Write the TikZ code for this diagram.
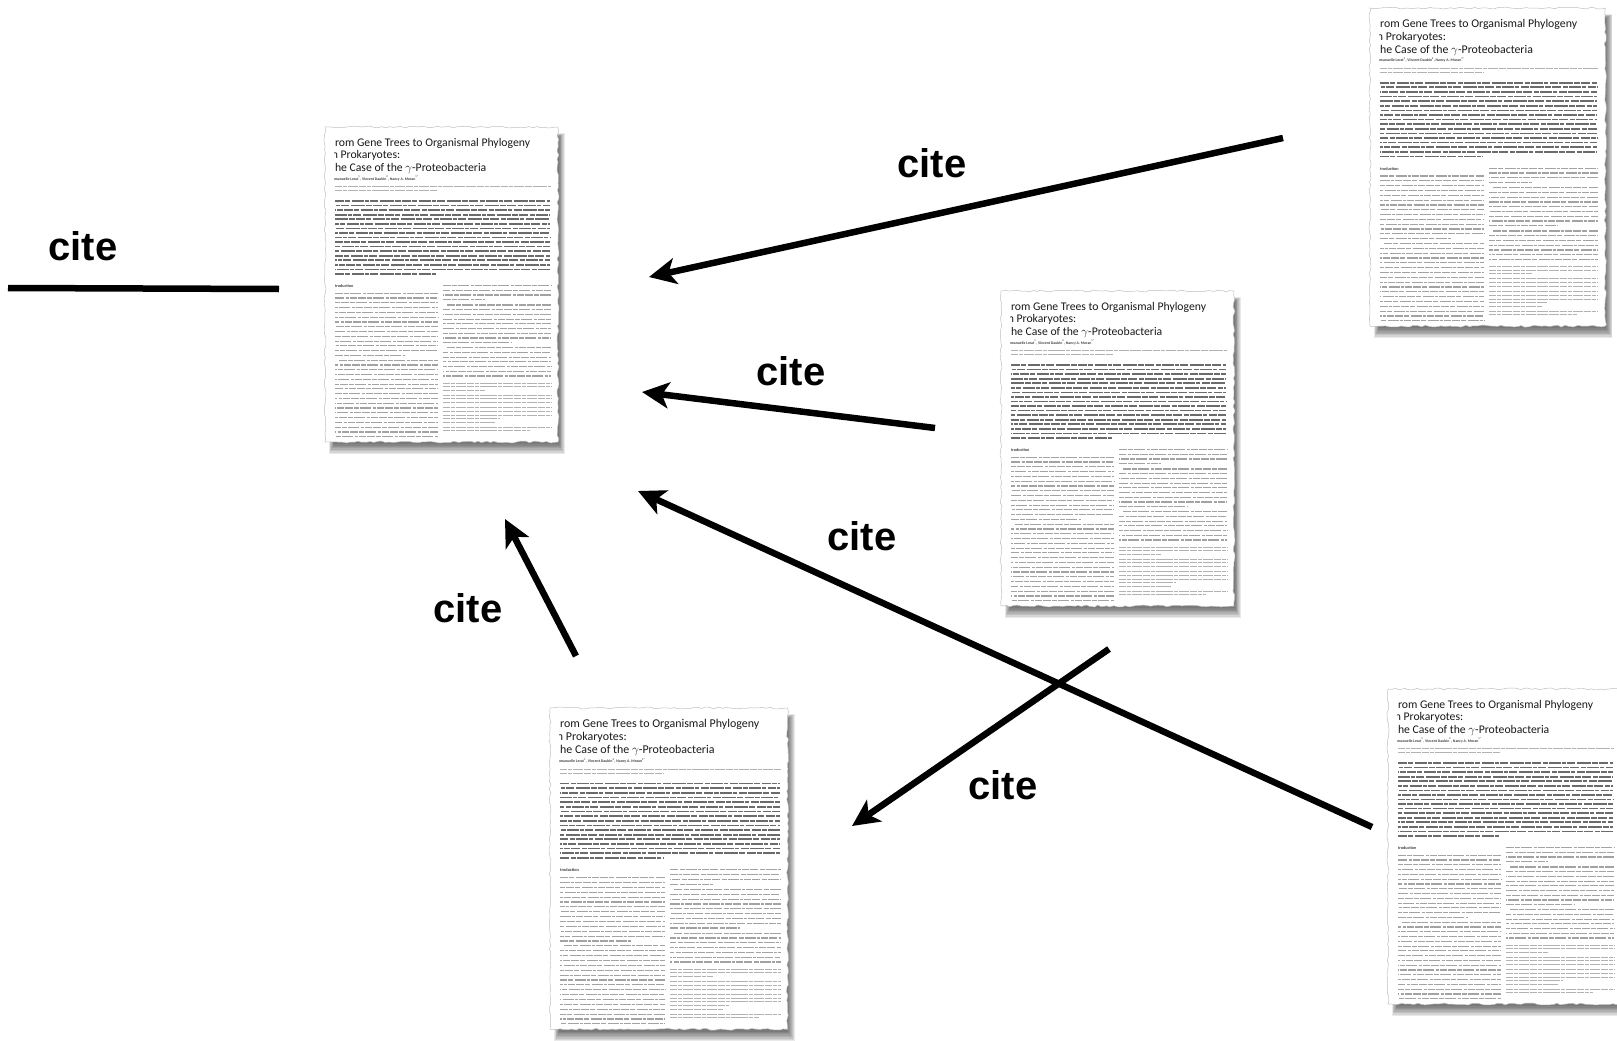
\documentclass[tikz,border=0pt]{standalone}
\usepackage{fontspec}
\newfontfamily\citefam{Liberation Sans}
\newfontfamily\paperfam{Carlito}
\usetikzlibrary{arrows.meta,decorations.pathmorphing}

\tikzset{
  citelabel/.style={font=\citefam\bfseries\fontsize{40}{46}\selectfont, inner sep=0pt, text=black},
  citearrow/.style={line width=6.5pt, draw=black, -{Stealth[length=27pt,width=26pt,inset=7pt]}},
  citeline/.style={line width=6.5pt, draw=black},
  ptitle/.style={anchor=base west, inner sep=0pt, font=\paperfam\fontsize{11.7}{12.8}\selectfont, text=black!90},
  pauth/.style={anchor=base west, inner sep=0pt, font=\paperfam\bfseries\fontsize{3.8}{4.5}\selectfont, text=black!75},
  phead/.style={anchor=base west, inner sep=0pt, font=\paperfam\bfseries\fontsize{4.2}{5}\selectfont, text=black!75},
  absline/.style={line width=1.7pt, draw=black!58, dash pattern=on 9pt off 1.3pt on 5pt off 1.3pt on 12pt off 1.3pt on 4pt off 1.3pt on 8pt off 1.3pt on 14pt off 1.3pt on 6pt off 1.3pt},
  bodyline/.style={line width=1.2pt, draw=black!36, dash pattern=on 8pt off 1.2pt on 5pt off 1.2pt on 11pt off 1.2pt on 3pt off 1.2pt on 7pt off 1.2pt},
  smallline/.style={line width=0.75pt, draw=black!30, dash pattern=on 7pt off 0.9pt on 4pt off 0.9pt on 10pt off 0.9pt},
  paperbox/.style={draw=none, fill=none, inner sep=0pt, minimum width=233pt, minimum height=315pt, anchor=north west},
}

\newcommand{\drawpaper}[5]{%
\pgfmathsetseed{#5}%
\begin{scope}[shift={(#2,#3)}, scale=#4, transform shape]
  % blurred drop shadow
  \foreach \k in {0,...,7}{\fill[black, opacity=0.085] (4+\k*0.7, 6+\k*0.6) rectangle (240-\k*0.9, 327-\k*1.4);}
  \path[fill=white, draw=black!25, line width=0.5pt, decorate, decoration={random steps, segment length=4pt, amplitude=1pt}]
    (0,0) -- (233,0) -- (233,315) -- (0,315) -- cycle;
  \node[paperbox] (#1) at (0,0) {};
  \begin{scope}
    \clip (9.5,-2) rectangle (229,317);
    \node[ptitle] (#1-t1) at (9.8,19) {rom Gene Trees to Organismal Phylogeny};
    \node[ptitle] (#1-t2) at (6.6,31.8) {n Prokaryotes:};
    \node[ptitle] (#1-t3) at (9.8,44.6) {he Case of the $\gamma$-Proteobacteria};
    \node[pauth] (#1-au) at (7.6,53) {nmanuelle Lerat\textsuperscript{1}, Vincent Daubin\textsuperscript{2}, Nancy A. Moran\textsuperscript{1*}};
    \node[phead] (#1-in) at (9.8,160.5) {troduction};
  \end{scope}
  % affiliations
  \draw[smallline] (10,59.7) -- (226,59.7);
  \draw[smallline] (10,63.8) -- (112,63.8);
  % abstract
  \foreach \i [evaluate=\i as \ph using {mod(\i*29,70)}] in {0,...,15}{\draw[absline, dash phase=\ph pt] (10,74+\i*4.56) -- (225,74+\i*4.56);}
  \draw[absline] (10,147) -- (112,147);
  % left column
  \foreach \i [evaluate=\i as \ph using {mod(\i*17,40)}] in {0,...,12}{\draw[bodyline, dash phase=\ph pt] (10,166.3+\i*4.78) -- (113,166.3+\i*4.78);}
  \draw[bodyline] (10,228.4) -- (80,228.4);
  \draw[bodyline] (14,233.2) -- (113,233.2);
  \foreach \i [evaluate=\i as \ph using {mod(\i*23,40)}] in {1,...,16}{\draw[bodyline, dash phase=\ph pt] (10,233.2+\i*4.78) -- (113,233.2+\i*4.78);}
  % right column
  \foreach \i [evaluate=\i as \ph using {mod(\i*19,40)}] in {0,1,2}{\draw[bodyline, dash phase=\ph pt] (118,158.7+\i*4.67) -- (226,158.7+\i*4.67);}
  \draw[bodyline] (118,172.7) -- (160,172.7);
  \draw[bodyline] (122,178) -- (226,178);
  \foreach \i [evaluate=\i as \ph using {mod(\i*19,40)}] in {1,...,7}{\draw[bodyline, dash phase=\ph pt] (118,178+\i*4.71) -- (226,178+\i*4.71);}
  \draw[bodyline] (118,215.7) -- (186,215.7);
  \draw[bodyline] (122,220.7) -- (226,220.7);
  \foreach \i [evaluate=\i as \ph using {mod(\i*21,40)}] in {1,...,6}{\draw[bodyline, dash phase=\ph pt] (118,220.7+\i*4.72) -- (226,220.7+\i*4.72);}
  % small footnotes
  \foreach \yy in {256.3,259.6,268,271.8,275.6,280.7,284.3,288,300.3}{\draw[smallline] (118,\yy) -- (226,\yy);}
  \draw[smallline] (118,262.9) -- (160,262.9);
  \draw[smallline] (118,291.6) -- (175,291.6);
  \draw[smallline] (118,295.2) -- (170,295.2);
  \draw[smallline] (118,303.6) -- (205,303.6);
\end{scope}}

\begin{document}
\begin{tikzpicture}[x=1pt, y=-1pt]
\useasboundingbox (0,0) rectangle (1617,1041);
\fill[white] (0,0) rectangle (1617,1041);

\drawpaper{A}{325}{127}{1}{11}
\drawpaper{B}{1370}{8}{1.01}{23}
\drawpaper{C}{1001}{291}{1}{37}
\drawpaper{D}{550}{708}{1.02}{41}
\drawpaper{E}{1388}{689}{1}{53}

\coordinate (c0s) at (8,288);    \coordinate (c0e) at (279,289);
\coordinate (c1s) at (1283,138); \coordinate (c1e) at (649,277);
\coordinate (c2s) at (935,428);  \coordinate (c2e) at (642,392);
\coordinate (c3s) at (1372,827); \coordinate (c3e) at (638,491);
\coordinate (c4s) at (1109,649); \coordinate (c4e) at (852,826);
\coordinate (c5s) at (576,656);  \coordinate (c5e) at (505,519);

\draw[citeline] (c0s) -- (c0e);
\draw[citearrow] (c1s) -- (c1e);
\draw[citearrow] (c2s) -- (c2e);
\draw[citearrow] (c3s) -- (c3e);
\draw[citearrow] (c4s) -- (c4e);
\draw[citearrow] (c5s) -- (c5e);

\node[citelabel] (l0) at (83,246) {cite};
\node[citelabel] (l1) at (932,163) {cite};
\node[citelabel] (l2) at (791,371) {cite};
\node[citelabel] (l3) at (862,536) {cite};
\node[citelabel] (l4) at (1003,785) {cite};
\node[citelabel] (l5) at (468,608) {cite};
\end{tikzpicture}
\end{document}
